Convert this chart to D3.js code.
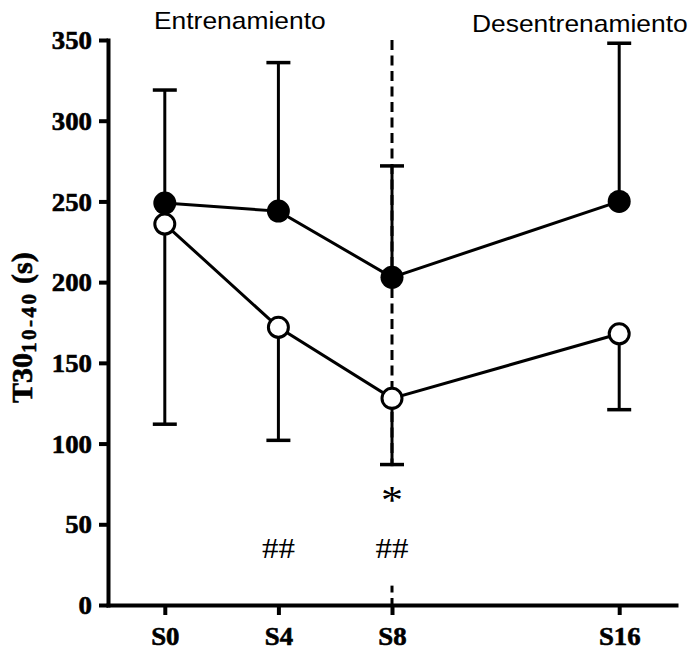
<!DOCTYPE html>
<html>
<head>
<meta charset="utf-8">
<script src="https://cdn.jsdelivr.net/npm/d3@7"></script>
<style>
  body { margin: 0; background: #fff; }
  svg { display: block; }
</style>
</head>
<body>
<svg id="chart" width="690" height="650"></svg>
<script>
// Sessions (training weeks) and their labels
const weeks = [0, 4, 8, 16];
const sessionLabels = ["S0", "S4", "S8", "S16"];

// Group drawn with filled circles: mean and SD (bars upward)
const filledMean = [249, 244, 203, 250];
const filledSD = [70, 92, 69, 98];

// Group drawn with open circles: mean and SD (bars downward)
const openMean = [236, 172, 128, 168];
const openSD = [124, 70, 41, 47];

// Axis ticks
const yTicks = [0, 50, 100, 150, 200, 250, 300, 350];

// Significance marks
const hashWeeks = [4, 8];
const starWeeks = [8];
const hashLevel = 29;
const starLevel = 57;

// Week separating training from detraining
const boundaryWeek = 8;

const svg = d3.select("#chart");
const x = d3.scaleLinear().domain([-2, 18]).range([108, 676]);
const y = d3.scaleLinear().domain([0, 350]).range([605, 40]);
const SX = 1.1;           // horizontal stretch of the lettering
const TSX = 1.05;         // stretch of the tick numerals
const serif = "'Liberation Serif', 'Times New Roman', serif";
const sans = "'Liberation Sans', Arial, sans-serif";

// Phase boundary: dashed vertical line
svg.append("line")
  .attr("x1", x(boundaryWeek)).attr("x2", x(boundaryWeek))
  .attr("y1", y(350)).attr("y2", y(0))
  .attr("stroke", "#000").attr("stroke-width", 3)
  .attr("stroke-dasharray", "10,5.5");

// White box behind the significance marks at the boundary
svg.append("rect")
  .attr("x", x(boundaryWeek) - 18).attr("width", 36)
  .attr("y", y(86)).attr("height", y(12) - y(86))
  .attr("fill", "#fff");

// Significance marks
svg.selectAll("text.hash").data(hashWeeks).join("text")
  .attr("class", "hash")
  .attr("transform", d => `translate(${x(d)},${y(hashLevel)}) scale(${SX},1)`)
  .attr("text-anchor", "middle")
  .attr("font-family", serif).attr("font-size", 30)
  .text("##");
svg.selectAll("text.star").data(starWeeks).join("text")
  .attr("class", "star")
  .attr("transform", d => `translate(${x(d)},${y(starLevel)}) scale(${SX},1)`)
  .attr("text-anchor", "middle")
  .attr("font-family", serif).attr("font-size", 40)
  .text("*");

// Axes
const yAxis = d3.axisLeft(y).tickValues(yTicks).tickSize(9).tickSizeOuter(0).tickPadding(7);
const gy = svg.append("g").attr("transform", `translate(${x(-2)},0)`).call(yAxis);
const xAxis = d3.axisBottom(x).tickValues(weeks)
  .tickFormat((d, i) => sessionLabels[i]).tickSize(10).tickSizeOuter(0);
const gx = svg.append("g").attr("transform", `translate(0,${y(0)})`).call(xAxis);

[gx, gy].forEach(g => {
  g.select(".domain").attr("stroke-width", 4).attr("stroke-linecap", "square");
  g.selectAll(".tick line").attr("stroke-width", 4);
  g.selectAll(".tick text")
    .attr("font-family", serif).attr("font-weight", "bold")
    .attr("font-size", 25.5).attr("fill", "#000")
    .attr("stroke", "#000").attr("stroke-width", 0.6);
});
gy.selectAll(".tick text")
  .attr("x", 0).attr("dy", "0.34em")
  .attr("transform", `translate(-16,0) scale(${TSX},1)`);
gx.selectAll(".tick text")
  .attr("y", 0).attr("dy", 0)
  .attr("transform", `translate(0,40) scale(${TSX},1)`);

// Y axis title
const yTitle = svg.append("text")
  .attr("transform", "translate(32,403) rotate(-90)")
  .attr("font-family", serif).attr("font-weight", "bold")
  .attr("font-size", 30).attr("fill", "#000")
  .attr("stroke", "#000").attr("stroke-width", 0.6);
yTitle.append("tspan").text("T30");
yTitle.append("tspan").attr("font-size", 21).attr("dy", 4)
  .attr("letter-spacing", 2.5).text("10-40");
yTitle.append("tspan").attr("dy", -4).text("\u00a0(s)");

// Phase titles
svg.append("text")
  .attr("transform", `translate(154,29) scale(${SX},1)`)
  .attr("font-family", sans).attr("font-size", 24).text("Entrenamiento");
svg.append("text")
  .attr("transform", `translate(472,32) scale(${SX},1)`)
  .attr("font-family", sans).attr("font-size", 24).text("Desentrenamiento");

const line = d3.line().x(d => x(d.w)).y(d => y(d.m));

function drawSeries(mean, sd, dir, filled) {
  const data = weeks.map((w, i) => ({ w, m: mean[i], e: mean[i] + dir * sd[i] }));
  const g = svg.append("g");
  // error bars
  g.selectAll("line.bar").data(data).join("line")
    .attr("x1", d => x(d.w)).attr("x2", d => x(d.w))
    .attr("y1", d => y(d.m)).attr("y2", d => y(d.e))
    .attr("stroke", "#000").attr("stroke-width", 3);
  g.selectAll("line.cap").data(data).join("line")
    .attr("x1", d => x(d.w) - 12).attr("x2", d => x(d.w) + 12)
    .attr("y1", d => y(d.e)).attr("y2", d => y(d.e))
    .attr("stroke", "#000").attr("stroke-width", 3.5);
  // connecting line
  g.append("path").datum(data).attr("d", line)
    .attr("fill", "none").attr("stroke", "#000").attr("stroke-width", 3);
  // markers
  g.selectAll("circle").data(data).join("circle")
    .attr("cx", d => x(d.w)).attr("cy", d => y(d.m))
    .attr("r", filled ? 11.5 : 10)
    .attr("fill", filled ? "#000" : "#fff")
    .attr("stroke", "#000").attr("stroke-width", filled ? 0 : 3);
}

drawSeries(filledMean, filledSD, 1, true);
drawSeries(openMean, openSD, -1, false);
</script>
</body>
</html>
